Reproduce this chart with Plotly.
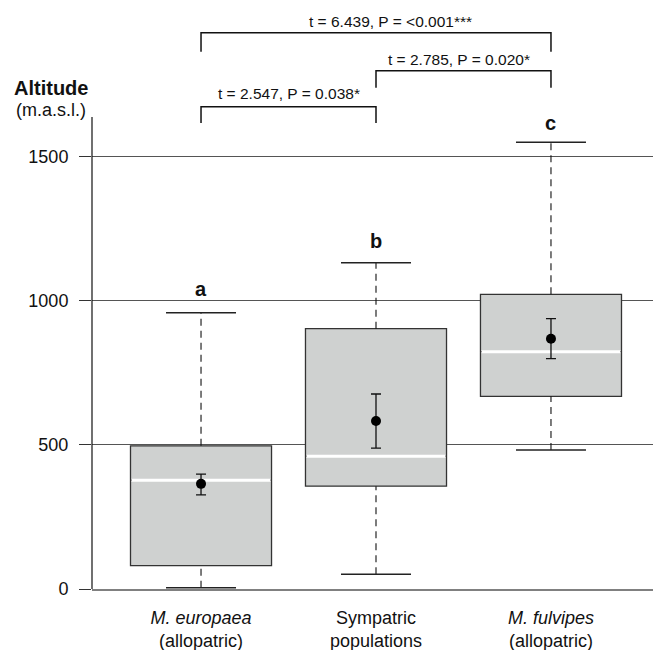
import plotly.graph_objects as go

# ---- data ----
positions = [1, 2, 3]
tick_labels = ["<i>M. europaea</i><br>(allopatric)", "Sympatric<br>populations", "<i>M. fulvipes</i><br>(allopatric)"]
q1 = [81, 357, 669]
median = [378, 461, 824]
q3 = [497, 904, 1023]
whisker_low = [4, 51, 483]
whisker_high = [959, 1133, 1551]
mean = [365, 583, 869]
se_upper = [399, 677, 939]
se_lower = [327, 489, 800]
letters = ["a", "b", "c"]
letter_y = [1042, 1208, 1618]

y_ticks = [0, 500, 1000, 1500]

comp_from = [1, 2, 1]
comp_to = [2, 3, 3]
comp_text = ["t = 2.547, P = 0.038*", "t = 2.785, P = 0.020*", "t = 6.439, P = <0.001***"]
comp_top = [1674, 1799, 1931]
comp_drop = [1618, 1740, 1865]
comp_text_y = [1722, 1837, 1972]
comp_text_shift = [0, -4, 14]

FONT = "Liberation Sans, Arial, Helvetica, sans-serif"
BOX_W = 0.806
CAP_HALF = 0.2

fig = go.Figure()

fig.add_trace(go.Box(
    x=positions, q1=q1, median=median, q3=q3,
    lowerfence=q1, upperfence=q3,
    width=BOX_W, whiskerwidth=0, boxpoints=False,
    fillcolor="#cfd1d0", line=dict(color="#333333", width=1.3),
    showlegend=False, hoverinfo="skip",
))

# dashed whiskers
wx, wy = [], []
for p, lo, a, b, hi in zip(positions, whisker_low, q1, q3, whisker_high):
    wx += [p, p, None, p, p, None]
    wy += [b, hi, None, lo, a, None]
fig.add_trace(go.Scatter(x=wx, y=wy, mode="lines",
                         line=dict(color="#111111", width=1.1, dash="7px,5px"),
                         showlegend=False, hoverinfo="skip"))

# whisker caps
cx, cy = [], []
for p, lo, hi in zip(positions, whisker_low, whisker_high):
    cx += [p - CAP_HALF, p + CAP_HALF, None, p - CAP_HALF, p + CAP_HALF, None]
    cy += [hi, hi, None, lo, lo, None]
fig.add_trace(go.Scatter(x=cx, y=cy, mode="lines",
                         line=dict(color="#222222", width=1.5),
                         showlegend=False, hoverinfo="skip"))

# white medians
mx, my = [], []
for p, m in zip(positions, median):
    mx += [p - BOX_W / 2 + 0.006, p + BOX_W / 2 - 0.006, None]
    my += [m, m, None]
fig.add_trace(go.Scatter(x=mx, y=my, mode="lines",
                         line=dict(color="white", width=3),
                         showlegend=False, hoverinfo="skip"))

# means with SE
fig.add_trace(go.Scatter(
    x=positions, y=mean, mode="markers",
    marker=dict(color="black", size=10),
    error_y=dict(type="data", symmetric=False,
                 array=[u - m for u, m in zip(se_upper, mean)],
                 arrayminus=[m - l for m, l in zip(mean, se_lower)],
                 color="#111111", thickness=1.3, width=5),
    showlegend=False, hoverinfo="skip",
))

# comparison brackets
bx, by = [], []
for a, b, top, drop in zip(comp_from, comp_to, comp_top, comp_drop):
    bx += [a, a, b, b, None]
    by += [drop, top, top, drop, None]
fig.add_trace(go.Scatter(x=bx, y=by, mode="lines",
                         line=dict(color="#111111", width=1.5),
                         showlegend=False, hoverinfo="skip"))

annotations = []
for a, b, t, ty, sh in zip(comp_from, comp_to, comp_text, comp_text_y, comp_text_shift):
    annotations.append(dict(x=(a + b) / 2, y=ty, xref="x", yref="y", text=t,
                            showarrow=False, xshift=sh,
                            font=dict(family=FONT, size=15.5, color="#111111")))
for p, l, ly in zip(positions, letters, letter_y):
    annotations.append(dict(x=p, y=ly, xref="x", yref="y", text="<b>%s</b>" % l,
                            showarrow=False,
                            font=dict(family=FONT, size=20, color="#111111")))
annotations.append(dict(x=0, y=1740, xref="paper", yref="y", text="<b>Altitude</b>",
                        xanchor="right", xshift=-2, showarrow=False,
                        font=dict(family=FONT, size=20, color="#111111")))
annotations.append(dict(x=0, y=1662, xref="paper", yref="y", text="(m.a.s.l.)",
                        xanchor="right", xshift=-4, showarrow=False,
                        font=dict(family=FONT, size=18, color="#111111")))

fig.update_layout(
    width=653, height=650,
    margin=dict(l=92, r=0, t=0, b=61),
    plot_bgcolor="white", paper_bgcolor="white",
    font=dict(family=FONT, size=18, color="#111111"),
    annotations=annotations,
    shapes=[dict(type="line", xref="paper", yref="y", x0=0, x1=0, y0=0, y1=1639,
                 line=dict(color="#111111", width=1.2))],
    xaxis=dict(range=[0.377, 3.583], tickvals=positions, ticktext=tick_labels,
               showline=True, linecolor="#808080", linewidth=2,
               ticks="", showgrid=False, zeroline=False, ticklabelstandoff=11,
               automargin=False,
               tickfont=dict(family=FONT, size=18, color="#111111")),
    yaxis=dict(range=[0, 2045], tickvals=y_ticks, showgrid=True,
               gridcolor="#555555", gridwidth=1, zeroline=False, showline=False,
               ticks="outside", ticklen=12, tickcolor="#333333", tickwidth=1.2,
               ticklabelstandoff=7, automargin=False,
               tickfont=dict(family=FONT, size=18, color="#111111")),
)

fig.write_html("out.html", config={"displayModeBar": False},
               post_script="document.body.style.margin='0px';")
